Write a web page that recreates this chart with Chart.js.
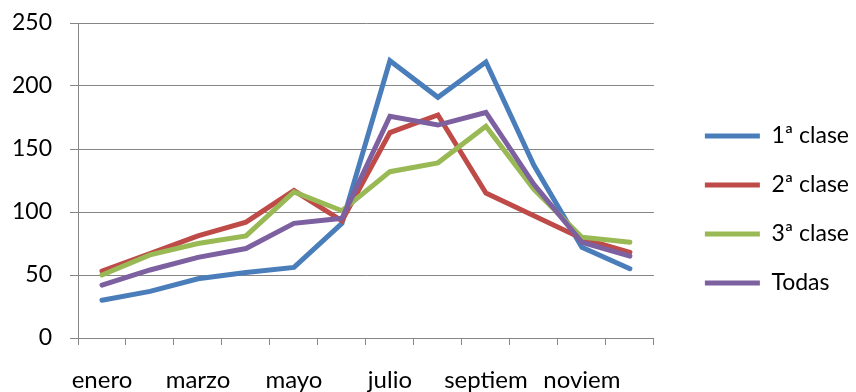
<!DOCTYPE html>
<html>
<head>
<meta charset="utf-8">
<script src="https://cdn.jsdelivr.net/npm/chart.js@4/dist/chart.umd.min.js"></script>
<style>
  body { margin: 0; background: #fff; }
  #wrap { width: 856px; height: 392px; position: relative; }
</style>
</head>
<body>
<div id="wrap"><canvas id="myChart"></canvas></div>
<script>
var months = ['enero', 'febrero', 'marzo', 'abril', 'mayo', 'junio', 'julio', 'agosto', 'septiembre', 'octubre', 'noviembre', 'diciembre'];
var xTickLabels = ['enero', '', 'marzo', '', 'mayo', '', 'julio', '', 'septiem', '', 'noviem', ''];
var primera = [30, 37, 47, 52, 56, 91, 220, 191, 219, 137, 72, 55];
var segunda = [53, 67, 81, 92, 117, 93, 163, 177, 115, 97, 79, 68];
var tercera = [50, 66, 75, 81, 116, 101, 132, 139, 168, 118, 80, 76];
var todas = [42, 54, 64, 71, 91, 95, 176, 169, 179, 122, 76, 65];

var gridColor = '#868686';
var fontFamily = 'Lato, "Open Sans", sans-serif';

function serie(label, values, color, order) {
  return {
    label: label,
    data: values,
    borderColor: color,
    backgroundColor: color,
    borderWidth: 5,
    borderCapStyle: 'round',
    pointRadius: 0,
    pointHoverRadius: 0,
    tension: 0,
    fill: false,
    order: order
  };
}

// mueve la leyenda un poco a la derecha, como en el original
var legendShift = {
  id: 'legendShift',
  afterLayout: function(chart) {
    var lg = chart.legend;
    lg.left += 25; lg.right += 25;
    lg.top += 2; lg.bottom += 2;
  }
};

var ctx = document.getElementById('myChart');
var chart = new Chart(ctx, {
  type: 'line',
  data: {
    labels: months,
    datasets: [
      serie('1ª clase', primera, '#4A7EBB', 4),
      serie('2ª clase', segunda, '#BE4B48', 3),
      serie('3ª clase', tercera, '#98B954', 2),
      serie('Todas', todas, '#7D60A0', 1)
    ]
  },
  options: {
    responsive: true,
    maintainAspectRatio: false,
    animation: false,
    layout: { padding: { top: 23, right: 22, left: 0, bottom: 0 } },
    plugins: {
      tooltip: { enabled: false },
      legend: {
        position: 'right',
        labels: {
          usePointStyle: true,
          pointStyle: 'line',
          pointStyleWidth: 55,
          padding: 26,
          color: '#000',
          font: { family: fontFamily, size: 23 },
          sort: function(a, b) { return a.datasetIndex - b.datasetIndex; }
        }
      }
    },
    scales: {
      x: {
        offset: true,
        grid: { offset: true, drawOnChartArea: false, tickLength: 7, color: gridColor },
        border: { color: gridColor },
        ticks: {
          autoSkip: false,
          maxRotation: 0,
          padding: 21,
          color: '#000',
          font: { family: fontFamily, size: 24 },
          callback: function(v, i) { return xTickLabels[i]; }
        },
        afterFit: function(scale) { scale.height = 54; }
      },
      y: {
        min: 0,
        max: 250,
        grid: { tickLength: 8, color: gridColor },
        border: { color: gridColor },
        ticks: {
          stepSize: 50,
          padding: 18,
          color: '#000',
          font: { family: fontFamily, size: 23 }
        },
        afterFit: function(scale) {
          scale.width = 78;
          scale.paddingTop = 0;
          scale.paddingBottom = 0;
        }
      }
    }
  },
  plugins: [legendShift]
});
</script>
</body>
</html>
